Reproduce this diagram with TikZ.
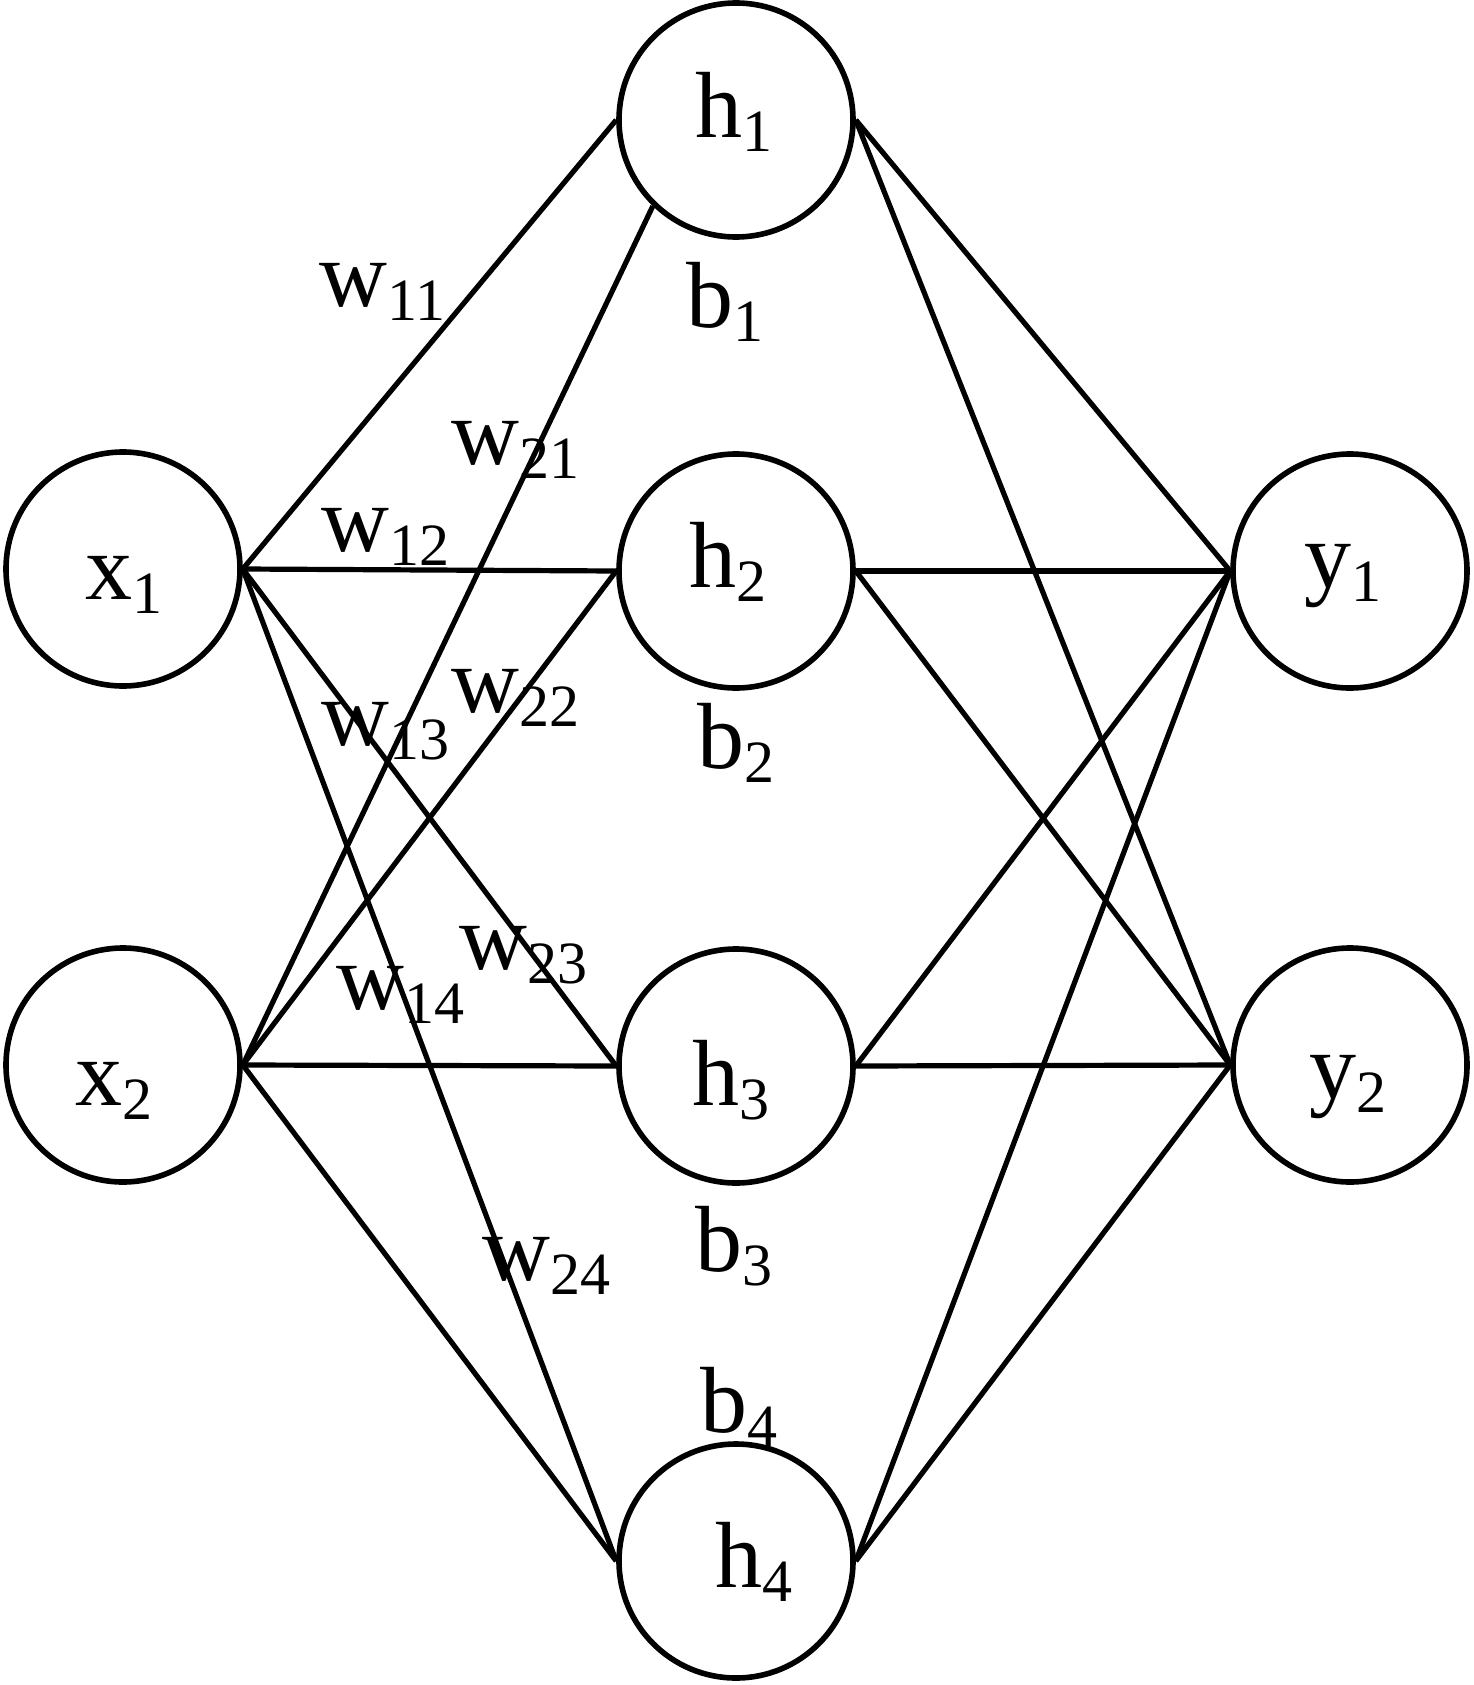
\documentclass[tikz,border=0pt]{standalone}
\usepackage{fontspec}
\setmainfont{Liberation Serif}
\newcommand\lsub[1]{\raisebox{-7pt}{\fontsize{30}{36}\selectfont #1}}
\begin{document}
\begin{tikzpicture}[x=0.5pt,y=-0.5pt,
  neuron/.style={circle,draw,line width=2.8pt,minimum size=117pt,inner sep=0pt},
  conn/.style={line width=2.6pt},
  lbl/.style={anchor=base west,inner sep=0pt,font=\fontsize{47}{56}\selectfont}]
\useasboundingbox (0,0) rectangle (1473,1685);
% neurons
\node[neuron] (x1) at (123,569) {};
\node[neuron] (x2) at (123,1065) {};
\node[neuron] (h1) at (736,120) {};
\node[neuron] (h2) at (736,571) {};
\node[neuron] (h3) at (736,1066) {};
\node[neuron] (h4) at (736,1561) {};
\node[neuron] (y1) at (1350,571) {};
\node[neuron] (y2) at (1350,1065) {};
% connectors input -> hidden
\draw[conn] (x1.east) -- (h1.west);
\draw[conn] (x1.east) -- (h2.west);
\draw[conn] (x1.east) -- (h3.west);
\draw[conn] (x1.east) -- (h4.west);
\draw[conn] (x2.east) -- (h1.226);
\draw[conn] (x2.east) -- (h2.west);
\draw[conn] (x2.east) -- (h3.west);
\draw[conn] (x2.east) -- (h4.west);
% hidden -> output
\foreach \h in {h1,h2,h3,h4}{
  \draw[conn] (\h.east) -- (y1.west);
  \draw[conn] (\h.east) -- (y2.west);
}
% labels
\node[lbl] (lx1) at (85,599) {x\lsub{1}};
\node[lbl] (lx2) at (75,1105) {x\lsub{2}};
\node[lbl] (lh1) at (695,138) {h\lsub{1}};
\node[lbl] (lh2) at (689,587) {h\lsub{2}};
\node[lbl] (lh3) at (692,1105) {h\lsub{3}};
\node[lbl] (lh4) at (715,1587) {h\lsub{4}};
\node[lbl] (ly1) at (1304,587) {y\lsub{1}};
\node[lbl] (ly2) at (1309,1098) {y\lsub{2}};
\node[lbl] (lb1) at (686,327) {b\lsub{1}};
\node[lbl] (lb2) at (697,768) {b\lsub{2}};
\node[lbl] (lb3) at (695,1271) {b\lsub{3}};
\node[lbl] (lb4) at (700,1432) {b\lsub{4}};
\node[lbl] (lw11) at (319,306) {w\lsub{11}};
\node[lbl] (lw21) at (451,464) {w\lsub{21}};
\node[lbl] (lw12) at (321,551) {w\lsub{12}};
\node[lbl] (lw22) at (451,712) {w\lsub{22}};
\node[lbl] (lw13) at (321,745) {w\lsub{13}};
\node[lbl] (lw23) at (459,969) {w\lsub{23}};
\node[lbl] (lw14) at (336,1009) {w\lsub{14}};
\node[lbl] (lw24) at (482,1280) {w\lsub{24}};
\end{tikzpicture}
\end{document}
